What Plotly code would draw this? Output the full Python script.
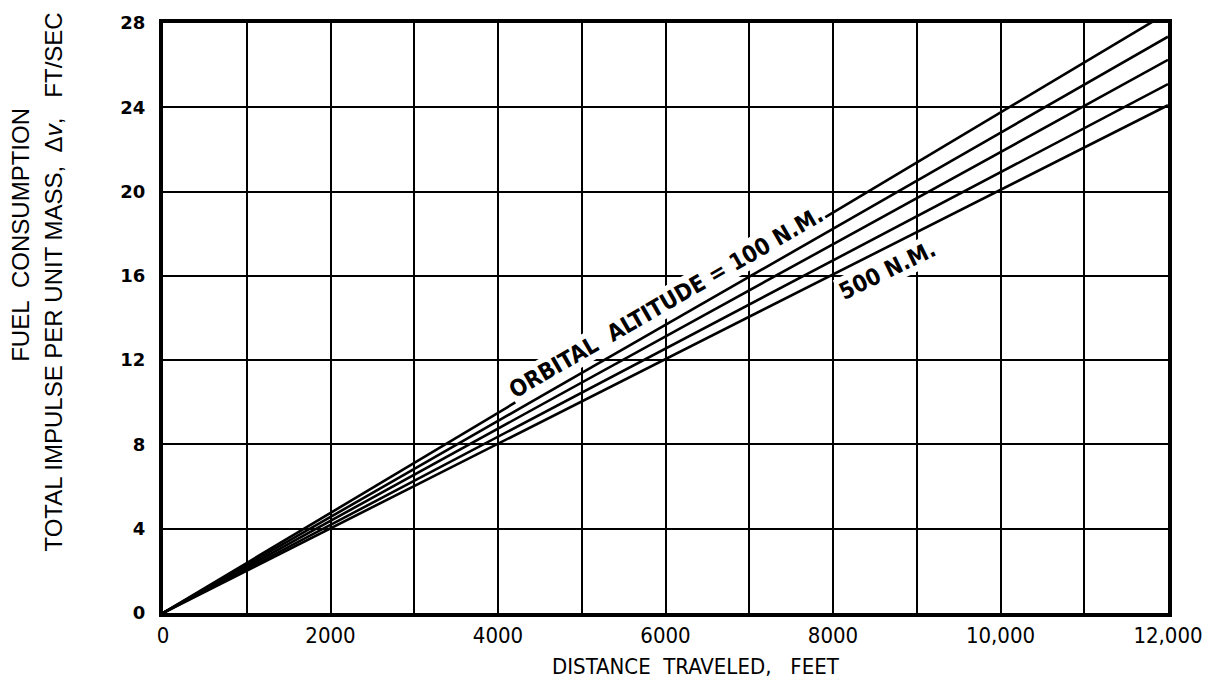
import plotly.graph_objects as go

# Distance traveled (ft) and fuel consumption (delta-v, ft/sec) per orbital altitude
distance_ft = [0, 12000]
altitudes = ["100 N.M.", "200 N.M.", "300 N.M.", "400 N.M.", "500 N.M."]
delta_v_at_end = [28.5, 27.35, 26.25, 25.1, 24.1]

x_ticks = list(range(0, 12001, 1000))
x_tick_labels = ["0", "", "2000", "", "4000", "", "6000", "", "8000", "", "10,000", "", "12,000"]
y_ticks = [0, 4, 8, 12, 16, 20, 24, 28]
y_tick_labels = ["0", "4", "8", "12", "16", "20", "24", "28"]

NARROW = "Liberation Sans Narrow, DejaVu Sans Condensed, Liberation Sans, Arial, sans-serif"
WIDE = "DejaVu Sans, Verdana, sans-serif"
PLAIN = "Liberation Sans, Arial, sans-serif"

fig = go.Figure()
for name, dv in zip(altitudes, delta_v_at_end):
    fig.add_trace(go.Scatter(
        x=distance_ft,
        y=[0, dv],
        mode="lines",
        name=name,
        line=dict(color="black", width=2.6),
        showlegend=False,
        hoverinfo="skip",
    ))

# Curve labels (white backing breaks the grid behind the lettering)
fig.add_annotation(
    x=6010, y=14.75, xref="x", yref="y",
    text="<b>ORBITAL  ALTITUDE = 100 N.M.</b>",
    textangle=-30, showarrow=False,
    font=dict(family=NARROW, size=23, color="black"),
    bgcolor="white", borderpad=1,
    xanchor="center", yanchor="middle",
)
fig.add_annotation(
    x=8650, y=16.3, xref="x", yref="y",
    text="<b>500 N.M.</b>",
    textangle=-26, showarrow=False,
    font=dict(family=NARROW, size=23, color="black"),
    bgcolor="white", borderpad=1,
    xanchor="center", yanchor="middle",
)

# Two-line vertical axis title
fig.add_annotation(
    x=0, y=0.641, xref="paper", yref="paper",
    text="FUEL  CONSUMPTION",
    textangle=-90, showarrow=False, xshift=-142,
    font=dict(family=PLAIN, size=24, color="black"),
    xanchor="center", yanchor="middle",
)
fig.add_annotation(
    x=0, y=0.56, xref="paper", yref="paper",
    text="TOTAL IMPULSE PER UNIT MASS,  Δ<i>v</i>,   FT/SEC",
    textangle=-90, showarrow=False, xshift=-109,
    font=dict(family=PLAIN, size=24, color="black"),
    xanchor="center", yanchor="middle",
)

# Horizontal axis title
fig.add_annotation(
    x=0.53, y=0, xref="paper", yref="paper",
    text="DISTANCE  TRAVELED,   FEET",
    showarrow=False, yshift=-53,
    font=dict(family=NARROW, size=22, color="black"),
    xanchor="center", yanchor="middle",
)

fig.update_xaxes(
    range=[0, 12000],
    tickvals=x_ticks,
    ticktext=x_tick_labels,
    showgrid=True, gridcolor="black", gridwidth=2,
    showline=True, linecolor="black", linewidth=4, mirror=True,
    zeroline=False, ticks="",
    tickfont=dict(family=NARROW, size=22, color="black"),
)
fig.update_yaxes(
    range=[0, 28],
    tickvals=y_ticks,
    ticktext=y_tick_labels,
    showgrid=True, gridcolor="black", gridwidth=2,
    showline=True, linecolor="black", linewidth=4, mirror=True,
    zeroline=False, ticks="",
    ticklabelstandoff=10,
    tickfont=dict(family=WIDE, size=18, color="black", weight="bold"),
)

fig.update_layout(
    width=1215, height=683,
    margin=dict(l=163, r=45, t=20, b=70),
    paper_bgcolor="white",
    plot_bgcolor="white",
)

fig.write_html("out.html")
